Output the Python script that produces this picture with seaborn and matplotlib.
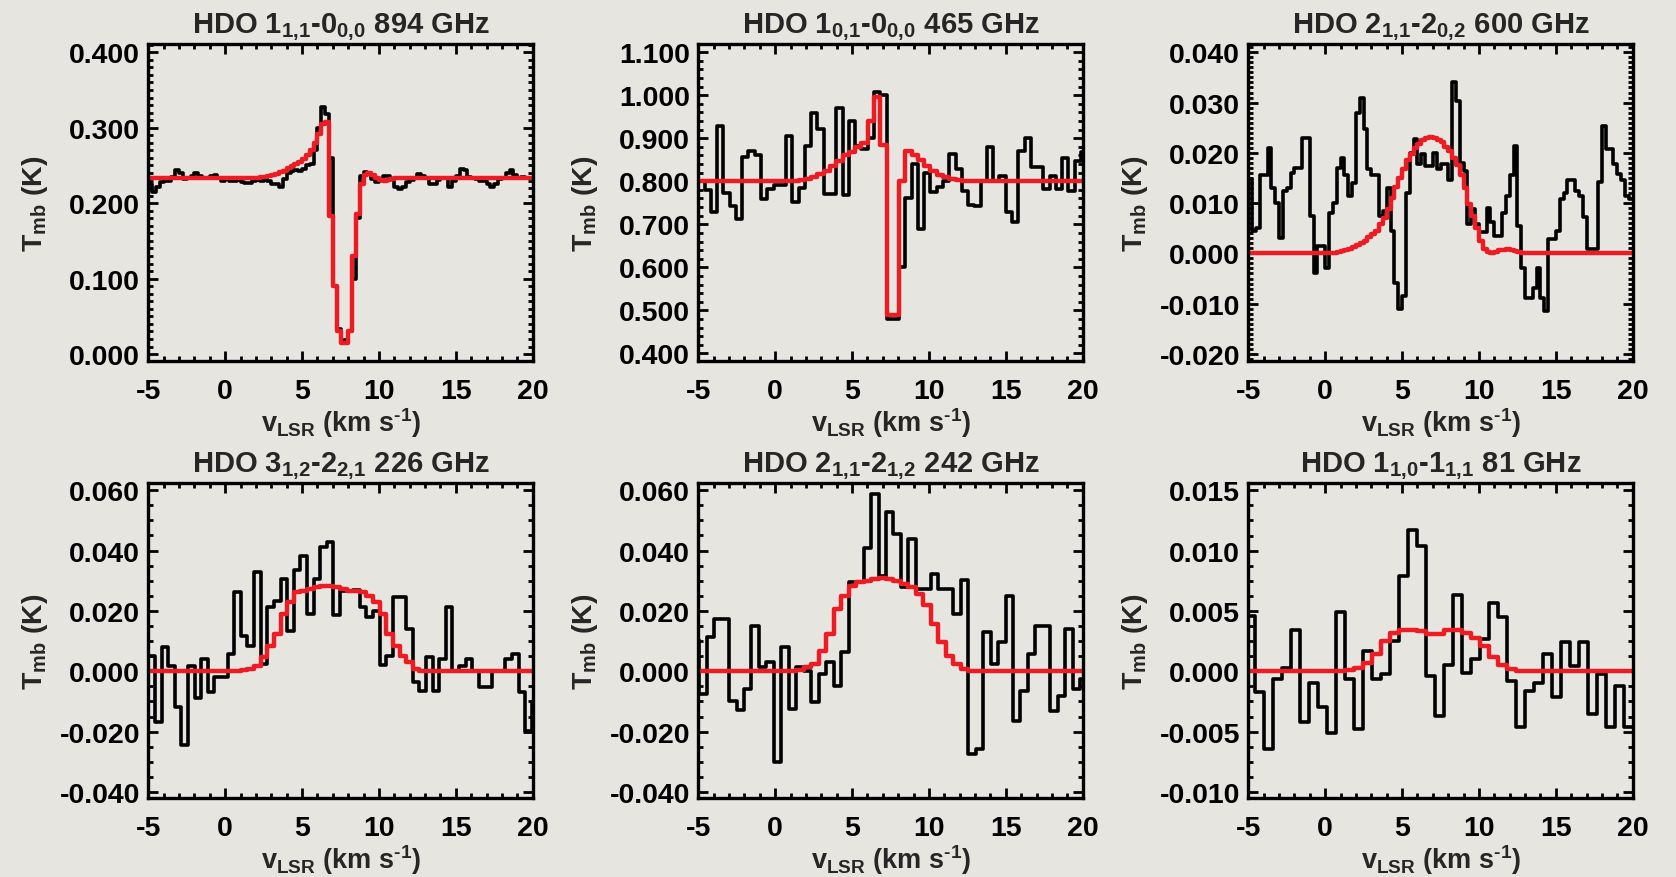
import numpy as np
import pandas as pd
import matplotlib
matplotlib.use("Agg")
import matplotlib.pyplot as plt
import seaborn as sns
from matplotlib.ticker import MultipleLocator, AutoMinorLocator, FormatStrFormatter

# ---------------- data ----------------
titles = ["HDO 1$_{1{,}1}$-0$_{0{,}0}$ 894 GHz",
          "HDO 1$_{0{,}1}$-0$_{0{,}0}$ 465 GHz",
          "HDO 2$_{1{,}1}$-2$_{0{,}2}$ 600 GHz",
          "HDO 3$_{1{,}2}$-2$_{2{,}1}$ 226 GHz",
          "HDO 2$_{1{,}1}$-2$_{1{,}2}$ 242 GHz",
          "HDO 1$_{1{,}0}$-1$_{1{,}1}$ 81 GHz"]

# first channel centre (km/s) and channel width (km/s) of each spectrum
v_start = [-4.875, -4.796, -4.875, -4.785, -5.187, -4.858]
v_width = [0.25, 0.408, 0.25, 0.43, 0.486, 0.5846]

obs_894 = [0.225, 0.215, 0.222, 0.228, 0.229, 0.230, 0.235, 0.244, 0.240, 0.232,
           0.233, 0.236, 0.240, 0.236, 0.234, 0.234, 0.236, 0.238, 0.233, 0.230,
           0.232, 0.229, 0.230, 0.231, 0.228, 0.227, 0.227, 0.229, 0.231, 0.230,
           0.232, 0.229, 0.226, 0.225, 0.222, 0.232, 0.240, 0.243, 0.244, 0.243,
           0.245, 0.250, 0.252, 0.270, 0.300, 0.327, 0.318, 0.260, 0.090, 0.033,
           0.018, 0.018, 0.030, 0.100, 0.180, 0.236, 0.241, 0.240, 0.232, 0.228,
           0.231, 0.236, 0.236, 0.232, 0.222, 0.219, 0.221, 0.228, 0.231, 0.233,
           0.239, 0.236, 0.233, 0.226, 0.225, 0.231, 0.234, 0.234, 0.222, 0.230,
           0.236, 0.245, 0.244, 0.235, 0.233, 0.232, 0.230, 0.229, 0.226, 0.222,
           0.226, 0.232, 0.233, 0.240, 0.244, 0.238, 0.234, 0.235, 0.234, 0.233]
mod_894 = [0.233, 0.233, 0.233, 0.233, 0.233, 0.233, 0.233, 0.233, 0.233, 0.233,
           0.233, 0.233, 0.233, 0.233, 0.233, 0.233, 0.233, 0.233, 0.233, 0.233,
           0.233, 0.233, 0.233, 0.233, 0.233, 0.233, 0.233, 0.234, 0.234, 0.235,
           0.235, 0.236, 0.237, 0.239, 0.241, 0.243, 0.246, 0.249, 0.252, 0.255,
           0.259, 0.264, 0.270, 0.280, 0.292, 0.305, 0.307, 0.183, 0.090, 0.030,
           0.015, 0.015, 0.030, 0.130, 0.185, 0.225, 0.238, 0.240, 0.237, 0.234,
           0.231, 0.230, 0.231, 0.232, 0.233, 0.233, 0.233, 0.233, 0.233, 0.233,
           0.233, 0.233, 0.233, 0.233, 0.233, 0.233, 0.233, 0.233, 0.233, 0.233,
           0.233, 0.233, 0.233, 0.233, 0.233, 0.233, 0.233, 0.233, 0.233, 0.233,
           0.233, 0.233, 0.233, 0.233, 0.233, 0.233, 0.233, 0.233, 0.233, 0.233]

obs_465 = [0.800, 0.780, 0.728, 0.928, 0.773, 0.743, 0.712, 0.856, 0.871, 0.860,
           0.759, 0.782, 0.792, 0.792, 0.906, 0.751, 0.784, 0.881, 0.959, 0.922,
           0.771, 0.771, 0.971, 0.767, 0.940, 0.883, 0.875, 0.900, 1.007, 1.000,
           0.480, 0.480, 0.600, 0.760, 0.840, 0.690, 0.820, 0.774, 0.786, 0.800,
           0.864, 0.829, 0.778, 0.745, 0.743, 0.800, 0.880, 0.800, 0.813, 0.728,
           0.705, 0.871, 0.900, 0.833, 0.833, 0.782, 0.813, 0.782, 0.854, 0.778,
           0.848, 0.867]
mod_465 = [0.800, 0.800, 0.800, 0.800, 0.800, 0.800, 0.800, 0.800, 0.800, 0.800,
           0.800, 0.800, 0.800, 0.800, 0.800, 0.801, 0.803, 0.806, 0.810, 0.817,
           0.825, 0.836, 0.848, 0.860, 0.867, 0.879, 0.890, 0.940, 0.995, 0.884,
           0.490, 0.490, 0.800, 0.870, 0.860, 0.850, 0.835, 0.825, 0.815, 0.810,
           0.805, 0.802, 0.800, 0.800, 0.800, 0.800, 0.800, 0.800, 0.800, 0.800,
           0.800, 0.800, 0.800, 0.800, 0.800, 0.800, 0.800, 0.800, 0.800, 0.800,
           0.800, 0.800]

obs_600 = [0.0148, 0.0045, 0.0050, 0.0155, 0.0155, 0.0210, 0.0130, 0.0100, 0.0030, 0.0125,
           0.0130, 0.0160, 0.0170, 0.0170, 0.0230, 0.0230, 0.0075, -0.0040, 0.0015, 0.0015,
           -0.0030, 0.0080, 0.0100, 0.0170, 0.0190, 0.0155, 0.0115, 0.0140, 0.0280, 0.0310,
           0.0247, 0.0168, 0.0155, 0.0155, 0.0075, 0.0085, 0.0130, 0.0045, -0.0058, -0.0110,
           -0.0084, 0.0121, 0.0200, 0.0227, 0.0178, 0.0198, 0.0174, 0.0174, 0.0200, 0.0168,
           0.0178, 0.0178, 0.0145, 0.0340, 0.0304, 0.0180, 0.0164, 0.0058, 0.0088, 0.0058,
           0.0042, 0.0042, 0.0090, 0.0062, 0.0035, 0.0035, 0.0080, 0.0115, 0.0155, 0.0213,
           0.0055, -0.0030, -0.0088, -0.0088, -0.0068, -0.0030, -0.0088, -0.0114, 0.0029, 0.0029,
           0.0045, 0.0108, 0.0121, 0.0145, 0.0145, 0.0125, 0.0115, 0.0072, 0.0009, 0.0009,
           0.0009, 0.0141, 0.0254, 0.0208, 0.0208, 0.0178, 0.0158, 0.0145, 0.0115, 0.0108]
mod_600 = [0.0, 0.0, 0.0, 0.0, 0.0, 0.0, 0.0, 0.0, 0.0, 0.0,
           0.0, 0.0, 0.0, 0.0, 0.0, 0.0, 0.0, 0.0, 0.0, 0.0,
           0.0, 0.0, 0.0001, 0.0002, 0.0004, 0.0006, 0.0009, 0.0012, 0.0016, 0.0020,
           0.0025, 0.0032, 0.0038, 0.0045, 0.0058, 0.0070, 0.0088, 0.0110, 0.0133, 0.0150,
           0.0168, 0.0185, 0.0198, 0.0210, 0.0218, 0.0226, 0.0230, 0.0231, 0.0230, 0.0226,
           0.0221, 0.0212, 0.0204, 0.0190, 0.0175, 0.0155, 0.0130, 0.0098, 0.0075, 0.0050,
           0.0025, 0.0009, 0.0002, 0.0001, 0.0003, 0.0006, 0.0007, 0.0008, 0.0007, 0.0005,
           0.0003, 0.0001, 0.0, 0.0, 0.0, 0.0, 0.0, 0.0, 0.0, 0.0,
           0.0, 0.0, 0.0, 0.0, 0.0, 0.0, 0.0, 0.0, 0.0, 0.0,
           0.0, 0.0, 0.0, 0.0, 0.0, 0.0, 0.0, 0.0, 0.0, 0.0]

obs_226 = [0.0050, -0.0169, 0.0082, 0.0019, -0.0119, -0.0246, 0.0019, -0.0088, 0.0041, -0.0070,
           -0.0020, -0.0020, 0.0057, 0.0262, 0.0118, 0.0085, 0.0328, 0.0024, 0.0212, 0.0234,
           0.0306, 0.0135, 0.0334, 0.0383, 0.0190, 0.0306, 0.0411, 0.0428, 0.0185, 0.0267,
           0.0267, 0.0270, 0.0212, 0.0179, 0.0200, 0.0022, 0.0052, 0.0245, 0.0245, 0.0140,
           -0.0036, -0.0064, 0.0046, -0.0064, 0.0041, 0.0212, 0.0000, 0.0019, 0.0041, 0.0000,
           -0.0053, -0.0053, 0.0000, 0.0000, 0.0041, 0.0057, -0.0070, -0.0197, -0.0103]
mod_226 = [0.0, 0.0, 0.0, 0.0, 0.0, 0.0, 0.0, 0.0, 0.0, 0.0,
           0.0, 0.0, 0.0, 0.0, 0.0003, 0.0008, 0.0019, 0.0046, 0.0085, 0.0124,
           0.0190, 0.0229, 0.0262, 0.0267, 0.0273, 0.0278, 0.0284, 0.0284, 0.0278, 0.0273,
           0.0267, 0.0267, 0.0262, 0.0250, 0.0229, 0.0190, 0.0124, 0.0085, 0.0052, 0.0030,
           0.0008, 0.0, 0.0, 0.0, 0.0, 0.0, 0.0, 0.0, 0.0, 0.0,
           0.0, 0.0, 0.0, 0.0, 0.0, 0.0, 0.0, 0.0, 0.0]

obs_242 = [0.0102, -0.0075, 0.0113, 0.0173, 0.0173, -0.0097, -0.0130, -0.0058, 0.0151, 0.0013,
           0.0030, -0.0302, 0.0082, -0.0125, 0.0013, 0.0002, -0.0103, -0.0009, 0.0030, -0.0048,
           0.0063, 0.0295, 0.0295, 0.0410, 0.0586, 0.0317, 0.0527, 0.0455, 0.0278, 0.0438,
           0.0273, 0.0273, 0.0323, 0.0273, 0.0273, 0.0190, 0.0301, -0.0274, -0.0257, 0.0129,
           0.0024, 0.0096, 0.0251, -0.0164, -0.0064, 0.0057, 0.0151, 0.0151, -0.0133, -0.0081,
           0.0140, -0.0059, -0.0026]
mod_242 = [0.0, 0.0, 0.0, 0.0, 0.0, 0.0, 0.0, 0.0, 0.0, 0.0,
           0.0, 0.0, 0.0, 0.0, 0.0003, 0.0013, 0.0025, 0.0068, 0.0124, 0.0207,
           0.0251, 0.0284, 0.0295, 0.0300, 0.0306, 0.0310, 0.0306, 0.0300, 0.0290, 0.0278,
           0.0256, 0.0218, 0.0157, 0.0096, 0.0052, 0.0024, 0.0008, 0.0, 0.0, 0.0,
           0.0, 0.0, 0.0, 0.0, 0.0, 0.0, 0.0, 0.0, 0.0, 0.0,
           0.0, 0.0, 0.0]

obs_81 = [0.0046, -0.0017, -0.0064, -0.0006, 0.0003, 0.0034, -0.0042, -0.0010, -0.0030, -0.0051,
          0.0049, -0.0006, -0.0048, 0.0017, -0.0006, -0.0002, 0.0025, 0.0079, 0.0117, 0.0104,
          -0.0004, -0.0037, 0.0005, 0.0063, -0.0001, 0.0010, 0.0027, 0.0057, 0.0045, -0.0008,
          -0.0046, -0.0016, -0.0010, 0.0014, -0.0021, 0.0024, 0.0004, 0.0024, -0.0035, -0.0002,
          -0.0046, -0.0012, -0.0046]
mod_81 = [0.0, 0.0, 0.0, 0.0, 0.0, 0.0, 0.0, 0.0, 0.0, 0.0,
          0.0, 0.0001, 0.0003, 0.0007, 0.0014, 0.0025, 0.0032, 0.0034, 0.0034, 0.0033,
          0.0031, 0.0031, 0.0034, 0.0034, 0.0032, 0.0028, 0.0021, 0.0012, 0.0005, 0.0002,
          0.0, 0.0, 0.0, 0.0, 0.0, 0.0, 0.0, 0.0, 0.0, 0.0,
          0.0, 0.0, 0.0]

observed = [obs_894, obs_465, obs_600, obs_226, obs_242, obs_81]
models = [mod_894, mod_465, mod_600, mod_226, mod_242, mod_81]

y_ranges = [(-0.0088, 0.411), (0.383, 1.119), (-0.02135, 0.04165),
            (-0.042, 0.0623), (-0.042, 0.0623), (-0.0105, 0.01558)]
y_steps = [0.1, 0.1, 0.01, 0.02, 0.02, 0.005]
y_minor = [10, 5, 10, 4, 4, 4]

# ---------------- style ----------------
BG = "#e7e5e0"
RED = "#ec1c24"
FS_TICK = 20.5
FS_TITLE = 21
FS_XLABEL = 19.5
FS_YLABEL = 20.5

sns.set_theme(style="ticks")
plt.rcParams.update({
    "font.family": ["Liberation Sans", "DejaVu Sans"],
    "font.weight": "bold",
    "mathtext.fontset": "custom",
    "mathtext.rm": "Liberation Sans:bold",
    "mathtext.it": "Liberation Sans:bold",
    "mathtext.bf": "Liberation Sans:bold",
    "mathtext.sf": "Liberation Sans:bold",
    "mathtext.default": "bf",
    "axes.unicode_minus": False,
    "axes.edgecolor": "black",
    "xtick.color": "black",
    "ytick.color": "black",
})

fig = plt.figure(figsize=(16.76, 8.78), dpi=100, facecolor=BG)

W, H = 1676.0, 878.0
col_left = [148.3, 698.3, 1248.3]
ax_w = 384.4
row_top = [45.0, 484.3]
ax_h = [316.7, 314.7]


def edges_df(start, width, values):
    n = len(values)
    x = start - width / 2.0 + width * np.arange(n + 1)
    y = list(values) + [values[-1]]
    return pd.DataFrame({"v": x, "T": y})


for i in range(6):
    r, c = divmod(i, 3)
    left = col_left[c] / W
    bottom = 1 - (row_top[r] + ax_h[r]) / H
    ax = fig.add_axes([left, bottom, ax_w / W, ax_h[r] / H])
    ax.set_facecolor(BG)

    d_obs = edges_df(v_start[i], v_width[i], observed[i])
    d_mod = edges_df(v_start[i], v_width[i], models[i])
    sns.lineplot(data=d_obs, x="v", y="T", ax=ax, color="black", lw=2.6,
                 drawstyle="steps-post", sort=False, estimator=None)
    sns.lineplot(data=d_mod, x="v", y="T", ax=ax, color=RED, lw=3.2,
                 drawstyle="steps-post", sort=False, estimator=None)

    ax.set_xlim(-5, 20)
    ax.set_ylim(*y_ranges[i])
    ax.xaxis.set_major_locator(MultipleLocator(5))
    ax.xaxis.set_minor_locator(MultipleLocator(1))
    ax.yaxis.set_major_locator(MultipleLocator(y_steps[i]))
    ax.yaxis.set_minor_locator(AutoMinorLocator(y_minor[i]))
    ax.yaxis.set_major_formatter(FormatStrFormatter("%.3f"))
    ax.xaxis.set_major_formatter(FormatStrFormatter("%d"))

    ax.tick_params(which="both", direction="in", top=True, right=True,
                   width=2.0, colors="black", labelsize=FS_TICK)
    ax.tick_params(which="major", length=7)
    ax.tick_params(which="minor", length=3.5)
    ax.tick_params(axis="x", which="major", pad=12.5)
    ax.tick_params(axis="y", which="major", pad=6)
    for lab in ax.get_xticklabels() + ax.get_yticklabels():
        lab.set_fontweight("bold")
    for s in ax.spines.values():
        s.set_linewidth(2.4)
        s.set_color("black")

    ax.set_title(titles[i], fontsize=FS_TITLE, fontweight="bold", pad=8.5)
    ax.set_xlabel(r"v$_{LSR}$ (km s$^{\text{-}1}$)", fontsize=FS_XLABEL, fontweight="bold")
    ax.set_ylabel("T$_{mb}$ (K)", fontsize=FS_YLABEL, fontweight="bold")
    ax.xaxis.set_label_coords(0.5, -0.14)
    ax.yaxis.set_label_coords(-0.257, 0.5)

fig.savefig("out.png", dpi=100, facecolor=BG)
